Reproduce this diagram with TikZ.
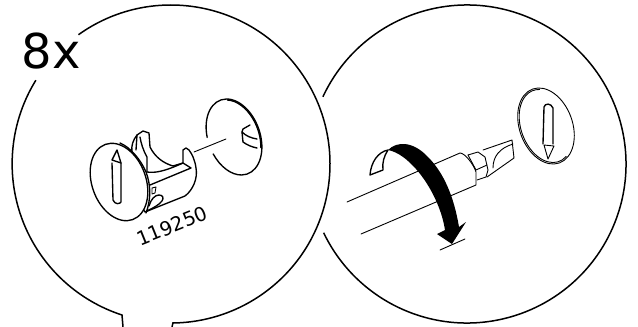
\documentclass[tikz,border=0pt]{standalone}
\usepackage{fontspec}
\setmainfont{DejaVu Sans}
\begin{document}
\begin{tikzpicture}[
    x=1pt, y=-1pt,
    thin line/.style={line width=0.9pt, line join=round, line cap=round},
    part line/.style={line width=1.35pt, line join=round, line cap=round},
    frame line/.style={line width=1.5pt}
  ]
  \useasboundingbox (0,0) rectangle (638,327);

  % Left bubble
  \coordinate (leftc) at (171,164);
  \draw[frame line] (leftc) ++(234.4:159) arc[start angle=234.4, end angle=449.3, radius=159] -- (172,327);
  \draw[frame line] (123,327) -- (122,315) arc[start angle=108, end angle=211.7, radius=159];

  % Right bubble
  \coordinate (rightc) at (467,164);
  \draw[frame line] (rightc) ++(205:159) arc[start angle=205, end angle=514.4, radius=159];

  % Labels
  \node[font=\fontsize{48}{48}\selectfont, inner sep=0pt] (count) at (51,51) {8x};
  \node[font=\fontsize{19.5}{19.5}\selectfont, inner sep=0pt, rotate=22] (partno) at (172,226) {119250};

  % Wall disc
  \draw[part line, shift={(234,137)}, rotate=20] (193:26 and 39.3) arc[start angle=193, end angle=527, x radius=26, y radius=39.3];
  \draw[part line, shift={(234,137)}, rotate=20] (-75:25 and 38.3) arc[start angle=-75, end angle=30, x radius=25, y radius=38.3];
  \draw[part line] (250,125) -- (243,129) -- (242,132) -- (243,142) .. controls (247,145) and (252,147) .. (257,148);
  \draw[part line] (242,132) .. controls (246,136) and (251,138) .. (257,139);
  \draw[thin line] (194,152) -- (226,139);

  % Clip body
  \draw[part line, fill=white] (145,212) -- (185,196) .. controls (193,190) and (198,178) .. (196,168) .. controls (195,160) and (192,154) .. (189,150) -- (186,148) -- (183,150) -- (183,163) -- (173,166) .. controls (163,163) and (155,157) .. (150,147) -- (149,133) -- (143,131) -- (137,135) .. controls (133,140) and (131,146) .. (132,152) -- (125,180) -- cycle;
  \draw[part line] (140,137) .. controls (141,143) and (143,150) .. (147,157) -- (147,172);
  \draw[part line] (137,135) -- (136,150);
  \draw[part line] (147,172) .. controls (155,173) and (163,172) .. (183,163) -- (191,168) -- (150,185);
  \draw[thin line] (152,188) -- (156,187) -- (155,193) -- (152,194) -- cycle;
  \draw[part line] (149,206) .. controls (151,199) and (155,195) .. (159,195) .. controls (163,195) and (164,198) .. (162,201) .. controls (159,205) and (153,208) .. (147,211);

  % Cap
  \draw[part line, fill=white, shift={(119,182)}, rotate=20] (0,0) ellipse[x radius=27, y radius=40];
  \draw[part line] (120,143) .. controls (130,147) and (141,160) .. (146,172) .. controls (151,185) and (151,200) .. (146,213);
  \draw[part line] (112,160) -- (117,150) -- (121,163) -- cycle;
  \draw[part line] (112,163) -- (113,200) .. controls (115,205) and (120,204) .. (121,202) -- (121,163);

  % Shaft
  \draw[thin line] (347,202) -- (460,153) .. controls (465,153) and (474,165) .. (476,172) -- (476,185) -- (361,234);
  \draw[thin line] (468,155) -- (478,152) -- (485,157) -- (488,170) -- (486,177) -- (477,180);
  \draw[thin line] (468,155) -- (476,170) -- (487,165);
  \draw[thin line] (483,150) -- (512,140) -- (514,158) -- (487,177);
  \draw[thin line] (493,168) .. controls (493,156) and (500,148) .. (513,144);

  % Arrow
  \draw[part line, fill=white] (388,150) .. controls (378,152) and (371,162) .. (370,175) -- (383,170) .. controls (382,163) and (384,156) .. (388,150);
  \fill (388,150) .. controls (397,141) and (413,141) .. (428,157) .. controls (444,173) and (454,197) .. (459,227) -- (466,222) -- (452,244) -- (437,234) -- (445,230) .. controls (442,210) and (431,186) .. (416,169) .. controls (407,159) and (398,152) .. (388,150) -- cycle;
  \draw[thin line] (440,250) -- (465,239);

  % Screw disc
  \draw[thin line, shift={(546,126)}, rotate=20] (0,0) ellipse[x radius=26.5, y radius=39.3];
  \draw[thin line, shift={(546,126)}, rotate=20] (70:25 and 37.8) arc[start angle=70, end angle=285, x radius=25, y radius=37.8];
  \draw[part line] (543,144) -- (544,107) .. controls (545,103) and (551,103) .. (553,108) -- (553,144);
  \draw[thin line] (544,145) -- (554,146) -- (548,159) -- cycle;
\end{tikzpicture}
\end{document}
